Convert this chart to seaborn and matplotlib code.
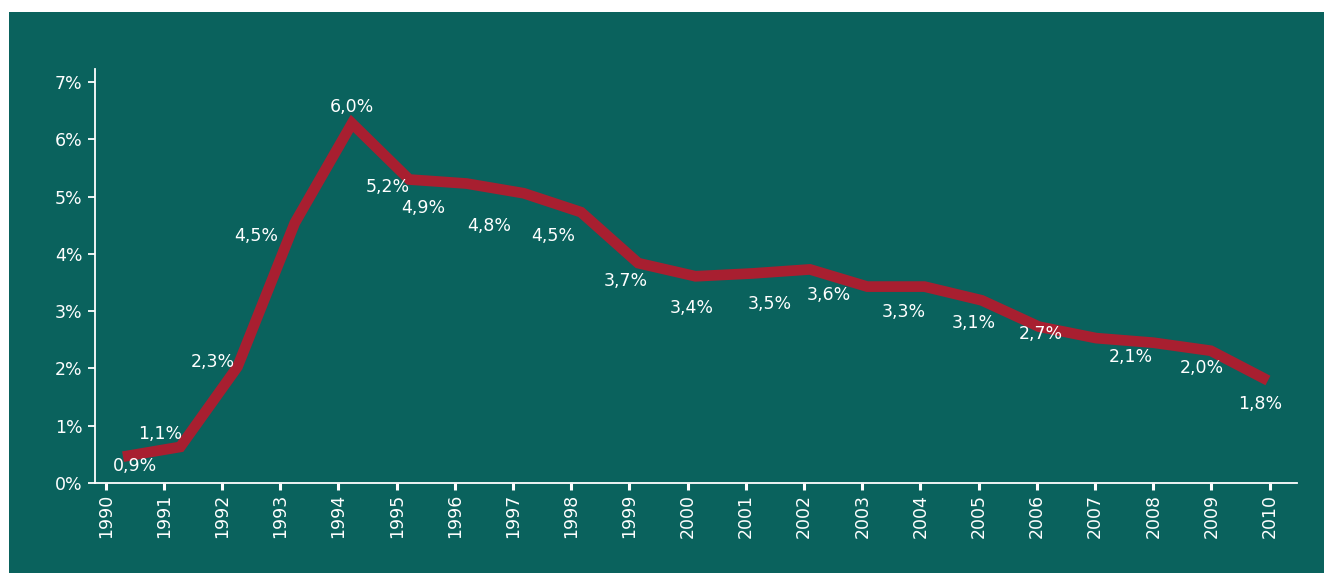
import numpy as np
import pandas as pd
import seaborn as sns
import matplotlib.pyplot as plt
from matplotlib.patches import Rectangle
from matplotlib.ticker import FuncFormatter

# data
years = list(range(1990, 2011))
rate = [0.46, 0.63, 2.03, 4.54, 6.28, 5.30, 5.23, 5.06, 4.73, 3.84, 3.61,
        3.66, 3.73, 3.43, 3.43, 3.19, 2.73, 2.53, 2.45, 2.31, 1.79]

label_years = [1990, 1991, 1992, 1993, 1994, 1995, 1996, 1997, 1998, 1999,
               2000, 2001, 2002, 2004, 2005, 2006, 2008, 2009, 2010]
label_text = ["0,9%", "1,1%", "2,3%", "4,5%", "6,0%", "5,2%", "4,9%", "4,8%",
              "4,5%", "3,7%", "3,4%", "3,5%", "3,6%", "3,3%", "3,1%", "2,7%",
              "2,1%", "2,0%", "1,8%"]
# label offsets from their point, in pixels
label_offsets = [(12, -9), (-20, 13), (-25, 5), (-39, -13), (0, 16), (-21, -7),
                 (-43, -24), (-35, -33), (-28, -24), (-12, -18), (-4, -32),
                 (17, -31), (19, -26), (-21, -25), (-8, -23), (2, -7),
                 (-23, -14), (-9, -17), (-8, -23)]

bg = "#0a625d"
red = "#a81f30"

sns.set_style("ticks", {"axes.facecolor": bg})
plt.rcParams["font.family"] = ["DejaVu Sans"]

fig = plt.figure(figsize=(13.24, 5.73), dpi=100)
fig.patch.set_facecolor("white")
fig.patches.append(Rectangle((9 / 1324, 0), 1 - 9 / 1324, 1 - 12 / 573,
                             transform=fig.transFigure, facecolor=bg,
                             edgecolor="none", zorder=-10))
ax = fig.add_axes([95 / 1324, 1 - 483 / 573, (1297 - 95) / 1324, (483 - 69) / 573])
ax.set_facecolor(bg)
ax.set_zorder(5)

# the line is drawn slightly shifted against the year ticks, as in the original
pos = 0.297 + 0.9837 * np.arange(len(years))
df = pd.DataFrame({"pos": pos, "rate": rate, "year": years})
sns.lineplot(data=df, x="pos", y="rate", ax=ax, color=red, linewidth=7.7,
             solid_joinstyle="miter", solid_capstyle="butt")

lookup = dict(zip(years, zip(pos, rate)))
for yr, txt, (dx, dy) in zip(label_years, label_text, label_offsets):
    px, py = lookup[yr]
    ax.annotate(txt, (px, py), xytext=(dx, dy), textcoords="offset pixels",
                ha="center", va="center", color="white", fontsize=12.5)

ax.set_xlim(-0.184, 20.47)
ax.set_ylim(0, 7.23)
ax.set_xticks(range(len(years)))
ax.set_xticklabels([str(y) for y in years], rotation=90, va="top")
ax.set_yticks(range(0, 8))
ax.yaxis.set_major_formatter(FuncFormatter(lambda v, _: f"{int(v)}%"))
ax.set_xlabel("")
ax.set_ylabel("")

sns.despine(ax=ax)
for side in ["left", "bottom"]:
    ax.spines[side].set_color("white")
    ax.spines[side].set_linewidth(1.3)
ax.tick_params(axis="y", colors="white", labelsize=12.5, length=5, width=1.3, pad=4)
ax.tick_params(axis="x", colors="white", labelsize=12.5, length=5, width=2.2, pad=3)

fig.savefig("out.png", dpi=100, facecolor=fig.get_facecolor())
